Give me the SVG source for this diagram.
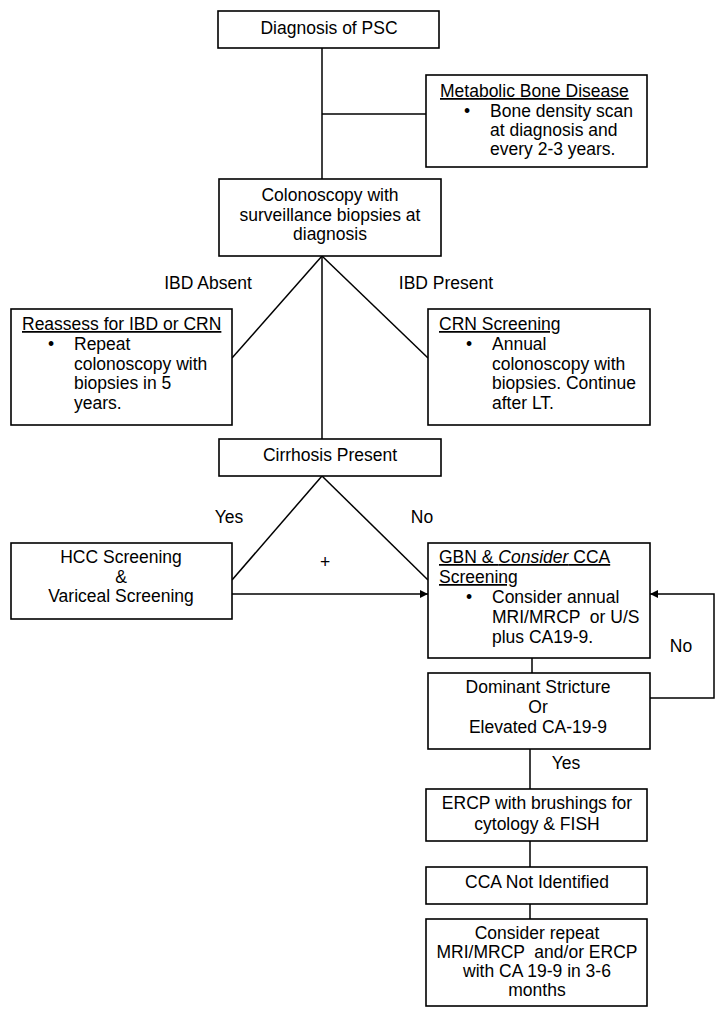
<svg xmlns="http://www.w3.org/2000/svg" width="722" height="1016" viewBox="0 0 722 1016">
<style>
text{font-family:"Liberation Sans",Arial,sans-serif;font-size:17.5px;fill:#000}
.c{text-anchor:middle}
.u{text-decoration:underline}
.box{fill:#fff;stroke:#000;stroke-width:1.6}
.ln{fill:none;stroke:#000;stroke-width:1.5}
</style>
<defs>
<marker id="ah" viewBox="0 0 10 10" refX="10" refY="5" markerWidth="8" markerHeight="8" markerUnits="userSpaceOnUse" orient="auto">
<path d="M0,0 L10,5 L0,10 z" fill="#000"/>
</marker>
</defs>
<rect width="722" height="1016" fill="#fff"/>
<g id="connectors">
<path class="ln" d="M322,48 V179"/>
<path class="ln" d="M322,114 H426"/>
<path class="ln" d="M322,256 V439"/>
<path class="ln" d="M322,256 L232,358"/>
<path class="ln" d="M322,256 L428,358"/>
<path class="ln" d="M322,476 L232,580"/>
<path class="ln" d="M322,476 L428,580"/>
<path class="ln" d="M232,594 H428" marker-end="url(#ah)"/>
<path class="ln" d="M532,658 V673"/>
<path class="ln" d="M650,698 H714 V594 H650" marker-end="url(#ah)"/>
<path class="ln" d="M530,749 V789"/>
<path class="ln" d="M530,841 V867"/>
<path class="ln" d="M530,904 V919"/>
<text x="208" y="289" class="c">IBD Absent</text>
<text x="446" y="289" class="c">IBD Present</text>
<text x="229" y="523" class="c">Yes</text>
<text x="422" y="523" class="c">No</text>
<text x="325" y="568" class="c">+</text>
<text x="681" y="652" class="c">No</text>
<text x="566" y="769" class="c">Yes</text>
</g>
<g id="diagnosis">
<rect class="box" x="218" y="11" width="221" height="37"/>
<text x="329" y="34" class="c">Diagnosis of PSC</text>
</g>
<g id="bone">
<rect class="box" x="426" y="75" width="221" height="92"/>
<text x="440" y="97" class="u">Metabolic Bone Disease</text>
<text x="464" y="117">•</text>
<text x="490" y="117">Bone density scan</text>
<text x="490" y="136">at diagnosis and</text>
<text x="490" y="155">every 2-3 years.</text>
</g>
<g id="colonoscopy">
<rect class="box" x="219" y="179" width="222" height="77"/>
<text x="330" y="201" class="c">Colonoscopy with</text>
<text x="330" y="221" class="c">surveillance biopsies at</text>
<text x="330" y="240" class="c">diagnosis</text>
</g>
<g id="reassess">
<rect class="box" x="11" y="309" width="221" height="116"/>
<text x="22" y="330" class="u">Reassess for IBD or CRN</text>
<text x="48" y="350">•</text>
<text x="74" y="350">Repeat</text>
<text x="74" y="370">colonoscopy with</text>
<text x="74" y="389">biopsies in 5</text>
<text x="74" y="409">years.</text>
</g>
<g id="crn">
<rect class="box" x="428" y="309" width="222" height="116"/>
<text x="439" y="330" class="u">CRN Screening</text>
<text x="466" y="350">•</text>
<text x="492" y="350">Annual</text>
<text x="492" y="370">colonoscopy with</text>
<text x="492" y="389">biopsies. Continue</text>
<text x="492" y="409">after LT.</text>
</g>
<g id="cirrhosis">
<rect class="box" x="219" y="439" width="222" height="37"/>
<text x="330" y="461" class="c">Cirrhosis Present</text>
</g>
<g id="hcc">
<rect class="box" x="11" y="543" width="221" height="76"/>
<text x="121" y="563" class="c">HCC Screening</text>
<text x="121" y="583" class="c">&amp;</text>
<text x="121" y="602" class="c">Variceal Screening</text>
</g>
<g id="gbn">
<rect class="box" x="428" y="543" width="222" height="115"/>
<text x="439" y="563" class="u">GBN &amp; <tspan font-style="italic">Consider</tspan> CCA</text>
<text x="439" y="583" class="u">Screening</text>
<text x="466" y="603">•</text>
<text x="492" y="603">Consider annual</text>
<text x="492" y="623" xml:space="preserve">MRI/MRCP  or U/S</text>
<text x="492" y="643">plus CA19-9.</text>
</g>
<g id="dominant">
<rect class="box" x="428" y="673" width="222" height="76"/>
<text x="538" y="693" class="c">Dominant Stricture</text>
<text x="538" y="713" class="c">Or</text>
<text x="538" y="733" class="c">Elevated CA-19-9</text>
</g>
<g id="ercp">
<rect class="box" x="426" y="789" width="221" height="52"/>
<text x="537" y="809" class="c">ERCP with brushings for</text>
<text x="537" y="830" class="c">cytology &amp; FISH</text>
</g>
<g id="cca">
<rect class="box" x="426" y="867" width="221" height="37"/>
<text x="537" y="888" class="c">CCA Not Identified</text>
</g>
<g id="repeat">
<rect class="box" x="426" y="919" width="221" height="87"/>
<text x="537" y="939" class="c">Consider repeat</text>
<text x="537" y="958" class="c" xml:space="preserve">MRI/MRCP  and/or ERCP</text>
<text x="537" y="977" class="c">with CA 19-9 in 3-6</text>
<text x="537" y="996" class="c">months</text>
</g>
</svg>
